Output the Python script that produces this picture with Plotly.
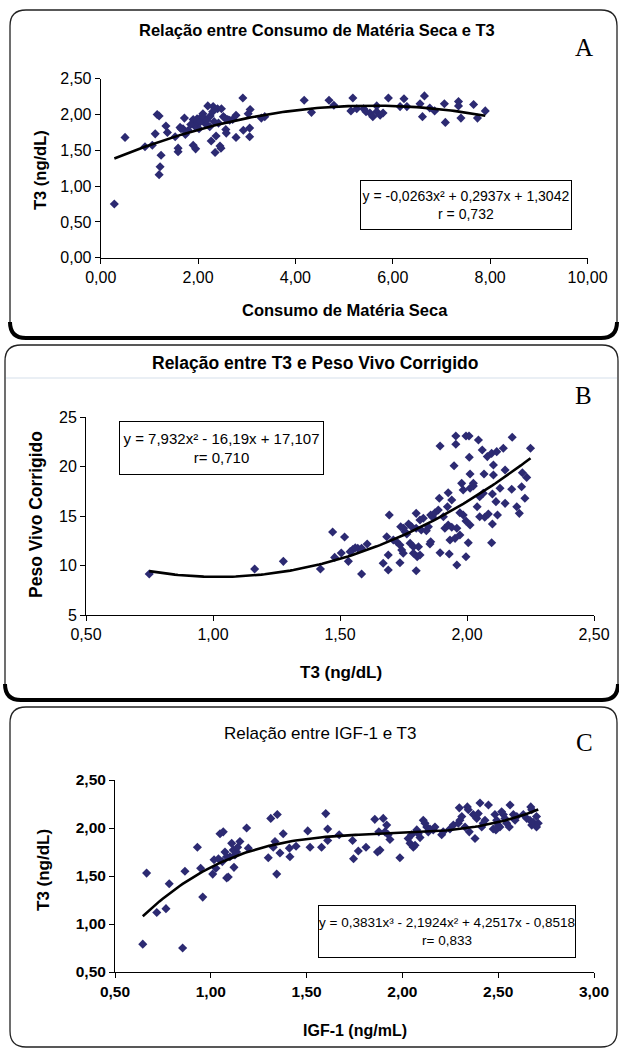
import numpy as np
import plotly.graph_objects as go

W, H = 619, 1052

# ---------------- Panel A: Consumo de Matéria Seca vs T3 ----------------
a_x = [0.28, 0.50, 0.91, 1.06, 1.12, 1.16, 1.20, 1.24, 1.22, 1.20, 1.34, 1.37, 1.53, 1.59, 1.59,
       1.63, 1.72, 1.69, 1.74, 1.90, 1.95, 1.90, 1.93, 2.00, 2.07, 2.10, 2.20, 2.15, 2.24, 2.27,
       2.31, 2.35, 2.37, 2.40, 2.45, 2.47, 2.48, 2.52, 2.57, 2.58, 2.61, 2.71, 2.78, 2.78, 2.92,
       2.93, 3.03, 3.07, 3.06, 3.06, 3.30, 3.37, 1.85, 1.98, 2.05, 2.12, 2.18, 2.25, 2.33, 2.42,
       2.55, 2.65, 2.02, 1.80, 1.65, 2.30,
       4.18, 4.33, 4.69, 4.79, 5.18, 5.14, 5.26, 5.40, 5.45, 5.53, 5.59, 5.67, 5.67, 5.74, 5.80,
       5.91, 6.15, 6.23, 6.29, 6.56, 6.65, 6.61, 6.76, 6.86, 7.06, 7.08, 7.35, 7.35, 7.40, 7.66,
       7.74, 7.90]
a_y = [0.75, 1.68, 1.55, 1.57, 1.73, 2.00, 1.98, 1.43, 1.27, 1.16, 1.84, 1.75, 1.69, 1.53, 1.48,
       1.82, 1.95, 1.80, 1.72, 1.57, 1.52, 1.93, 1.84, 1.90, 1.97, 2.01, 2.12, 1.87, 1.83, 1.63,
       2.11, 1.47, 1.70, 2.08, 1.56, 1.53, 2.08, 1.97, 1.79, 1.74, 1.93, 1.93, 1.68, 1.99, 2.23,
       1.78, 2.01, 2.07, 1.81, 1.69, 1.95, 1.97, 1.86, 1.94, 1.90, 1.95, 1.92, 1.98, 1.90, 1.88,
       1.95, 1.92, 1.80, 1.78, 1.80, 2.04,
       2.20, 2.03, 2.20, 2.13, 2.23, 2.05, 2.08, 2.08, 2.04, 2.02, 1.97, 2.12, 2.04, 1.99, 2.02,
       2.23, 2.11, 2.22, 2.11, 2.15, 2.26, 1.97, 2.09, 2.05, 2.15, 1.89, 2.18, 2.12, 1.95, 2.14,
       1.95, 2.05]
a_coef = [-0.0263, 0.2937, 1.3042]
a_xticks = [0, 2, 4, 6, 8, 10]
a_xticktext = ["0,00", "2,00", "4,00", "6,00", "8,00", "10,00"]
a_yticks = [0, 0.5, 1.0, 1.5, 2.0, 2.5]
a_yticktext = ["0,00", "0,50", "1,00", "1,50", "2,00", "2,50"]

# ---------------- Panel B: T3 vs Peso Vivo Corrigido ----------------
b_x = [0.749, 1.164, 1.277, 1.423, 1.471, 1.479, 1.518, 1.505, 1.533, 1.550, 1.570, 1.585, 1.585,
       1.607, 1.670, 1.684, 1.690, 1.690, 1.694, 1.710, 1.723, 1.736, 1.736, 1.739, 1.743, 1.749,
       1.750, 1.756, 1.763, 1.770, 1.776, 1.782, 1.789, 1.789, 1.800, 1.800, 1.800, 1.804, 1.809,
       1.815, 1.815, 1.820, 1.828, 1.840, 1.848, 1.854, 1.857, 1.857, 1.865, 1.874, 1.887, 1.891,
       1.894, 1.894, 1.907, 1.913, 1.923, 1.926, 1.926, 1.930, 1.933, 1.940, 1.940, 1.949, 1.953,
       1.956, 1.956, 1.960, 1.960, 1.972, 1.972, 1.979, 1.985, 1.985, 1.996, 1.996, 1.996, 2.005,
       2.008, 2.009, 2.012, 2.012, 2.012, 2.025, 2.025, 2.040, 2.045, 2.050, 2.050, 2.060, 2.064,
       2.067, 2.070, 2.080, 2.084, 2.097, 2.097, 2.100, 2.100, 2.104, 2.104, 2.114, 2.117, 2.120,
       2.130, 2.143, 2.150, 2.150, 2.176, 2.178, 2.196, 2.206, 2.215, 2.218, 2.228, 2.235, 2.250,
       1.540, 1.560]
b_y = [9.14, 9.65, 10.42, 9.65, 13.38, 10.82, 12.88, 11.27, 10.42, 11.60, 11.75, 11.74, 9.14,
       12.17, 10.22, 12.91, 11.06, 9.55, 15.10, 12.58, 12.40, 12.07, 10.28, 13.92, 11.57, 11.23,
       13.76, 13.42, 13.18, 14.19, 12.24, 13.92, 11.90, 11.23, 15.27, 13.76, 9.47, 10.89, 11.90,
       14.60, 11.06, 13.59, 14.77, 13.52, 13.92, 12.17, 12.40, 15.10, 14.87, 15.33, 15.60, 16.79,
       22.07, 11.29, 14.93, 13.76, 15.94, 14.09, 17.35, 11.16, 12.58, 13.86, 16.62, 20.08, 12.74,
       23.08, 22.24, 13.76, 10.05, 15.33, 13.08, 18.30, 17.63, 15.10, 23.08, 14.50, 10.89, 12.30,
       23.08, 20.93, 19.24, 17.80, 14.09, 18.03, 18.30, 15.94, 22.68, 14.93, 16.95, 21.67, 17.30,
       19.24, 14.87, 21.00, 15.20, 21.33, 12.30, 14.19, 17.22, 20.15, 19.14, 16.45, 21.50, 15.10,
       17.80, 21.84, 19.65, 16.28, 17.70, 22.95, 15.94, 15.27, 17.96, 19.37, 16.79, 18.90, 21.84,
       11.40, 11.80]
b_coef = [7.932, -16.19, 17.107]
b_xticks = [0.5, 1.0, 1.5, 2.0, 2.5]
b_xticktext = ["0,50", "1,00", "1,50", "2,00", "2,50"]
b_yticks = [5, 10, 15, 20, 25]
b_yticktext = ["5", "10", "15", "20", "25"]

# ---------------- Panel C: IGF-1 vs T3 ----------------
c_x = [0.645, 0.665, 0.718, 0.766, 0.783, 0.853, 0.865, 0.930, 0.947, 0.958, 1.010, 1.017, 1.027,
       1.040, 1.048, 1.065, 1.074, 1.083, 1.083, 1.091, 1.109, 1.117, 1.126, 1.135, 1.121, 1.152,
       1.187, 1.196, 1.300, 1.313, 1.347, 1.335, 1.326, 1.344, 1.361, 1.378, 1.413, 1.410, 1.445,
       1.506, 1.518, 1.578, 1.600, 1.610, 1.610, 1.670, 1.740, 1.745, 1.770, 1.810, 1.856, 1.870,
       1.877, 1.883, 1.900, 1.918, 1.909, 1.926, 1.935, 1.987, 2.030, 2.040, 2.057, 2.066, 2.048,
       2.075, 2.083, 2.092, 2.109, 2.118, 2.127, 2.135, 2.144, 2.161, 2.170, 2.205, 2.213, 2.248,
       2.266, 2.292, 2.300, 2.297, 2.310, 2.327, 2.339, 2.344, 2.349, 2.379, 2.370, 2.388, 2.396,
       2.405, 2.422, 2.414, 2.431, 2.449, 2.483, 2.492, 2.500, 2.509, 2.474, 2.488, 2.518, 2.527,
       2.535, 2.544, 2.558, 2.562, 2.579, 2.588, 2.597, 2.631, 2.649, 2.670, 2.675, 2.666, 2.675,
       2.683, 2.700, 2.709, 2.700, 1.060, 1.100, 1.140]
c_y = [0.79, 1.53, 1.12, 1.16, 1.42, 0.75, 1.55, 1.80, 1.58, 1.28, 1.52, 1.67, 1.58, 1.68, 1.94,
       1.96, 1.75, 1.70, 1.48, 1.49, 1.84, 1.77, 1.72, 1.75, 1.59, 1.86, 2.00, 1.79, 1.69, 2.10,
       2.14, 1.86, 1.80, 1.52, 1.74, 1.94, 1.70, 1.79, 1.81, 1.97, 1.80, 1.80, 2.15, 1.99, 1.87,
       1.93, 1.87, 1.68, 1.76, 1.80, 2.09, 1.75, 1.96, 1.77, 2.10, 2.03, 1.96, 1.93, 1.88, 1.69,
       1.89, 1.84, 1.80, 1.82, 1.93, 1.98, 1.94, 1.90, 2.08, 2.05, 2.01, 1.96, 1.99, 1.98, 2.01,
       1.93, 1.96, 1.99, 2.03, 2.05, 2.08, 2.21, 2.12, 2.01, 2.22, 2.19, 1.96, 1.89, 2.14, 2.10,
       2.15, 2.26, 2.05, 2.01, 2.08, 2.24, 2.14, 2.08, 2.03, 2.01, 1.99, 1.98, 2.17, 2.14, 2.10,
       2.05, 2.01, 2.24, 2.14, 2.08, 2.12, 2.14, 2.10, 2.22, 2.19, 2.08, 2.03, 2.06, 2.12, 2.05,
       2.01, 1.65, 1.70, 1.80]
c_coef = [0.3831, -2.1924, 4.2517, -0.8518]
c_xticks = [0.5, 1.0, 1.5, 2.0, 2.5, 3.0]
c_xticktext = ["0,50", "1,00", "1,50", "2,00", "2,50", "3,00"]
c_yticks = [0.5, 1.0, 1.5, 2.0, 2.5]
c_yticktext = ["0,50", "1,00", "1,50", "2,00", "2,50"]

MARKER = "#2C2A72"
SANS = "Liberation Sans, Arial, sans-serif"
SERIF = "Liberation Serif, Times New Roman, serif"


def fx(px):
    return px / W


def fy(py):
    return 1 - py / H


def trend(xs, coef):
    xx = np.linspace(min(xs), max(xs), 120)
    return xx, np.polyval(coef, xx)


fig = go.Figure()
panels = [
    (a_x, a_y, a_coef, "x", "y"),
    (b_x, b_y, b_coef, "x2", "y2"),
    (c_x, c_y, c_coef, "x3", "y3"),
]
for xs, ys, coef, xa, ya in panels:
    fig.add_trace(go.Scatter(x=xs, y=ys, mode="markers", xaxis=xa, yaxis=ya,
                             marker=dict(symbol="diamond", size=7, color=MARKER, line=dict(width=0)),
                             showlegend=False, hoverinfo="x+y"))
    tx, ty = trend(xs, coef)
    fig.add_trace(go.Scatter(x=tx, y=ty, mode="lines", xaxis=xa, yaxis=ya,
                             line=dict(color="black", width=2.6), showlegend=False,
                             hoverinfo="skip"))


def axis_common(tickfont):
    return dict(showgrid=False, zeroline=False, showline=True, linecolor="black", linewidth=1,
                ticks="outside", ticklen=5, tickcolor="black", tickwidth=1, automargin=False,
                tickfont=tickfont, fixedrange=True)


fa = dict(family=SANS, size=16, color="black")
fc = dict(family=SANS, size=15.5, color="black", weight="bold")

fig.update_layout(
    width=W, height=H, margin=dict(l=0, r=0, t=0, b=0, autoexpand=False),
    paper_bgcolor="white", plot_bgcolor="rgba(0,0,0,0)", showlegend=False,
    xaxis=dict(domain=[fx(100.7), fx(587.5)], anchor="y", range=[0, 10],
               tickmode="array", tickvals=a_xticks, ticktext=a_xticktext, **axis_common(fa)),
    yaxis=dict(domain=[fy(257.7), fy(78.7)], anchor="x", range=[0, 2.5],
               tickmode="array", tickvals=a_yticks, ticktext=a_yticktext, **axis_common(fa)),
    xaxis2=dict(domain=[fx(86), fx(594)], anchor="y2", range=[0.5, 2.5],
                tickmode="array", tickvals=b_xticks, ticktext=b_xticktext, **axis_common(fa)),
    yaxis2=dict(domain=[fy(615), fy(417)], anchor="x2", range=[5, 25],
                tickmode="array", tickvals=b_yticks, ticktext=b_yticktext, **axis_common(fa)),
    xaxis3=dict(domain=[fx(115), fx(594)], anchor="y3", range=[0.5, 3.0],
                tickmode="array", tickvals=c_xticks, ticktext=c_xticktext, **axis_common(fc)),
    yaxis3=dict(domain=[fy(972), fy(780)], anchor="x3", range=[0.5, 2.5],
                tickmode="array", tickvals=c_yticks, ticktext=c_yticktext, **axis_common(fc)),
)

annotations = []


def txt(x, y, text, font, angle=0, **kw):
    annotations.append(dict(x=fx(x), y=fy(y), xref="paper", yref="paper", text=text,
                            showarrow=False, font=font, textangle=angle,
                            xanchor="center", yanchor="middle", **kw))


def bold(size):
    return dict(family=SANS, size=size, color="black", weight="bold")


# Panel A texts
txt(317, 30, "Relação entre Consumo de Matéria Seca e T3", bold(16.5))
txt(584, 48, "A", dict(family=SERIF, size=25, color="black"))
txt(345, 310, "Consumo de Matéria Seca", bold(16.5))
txt(40, 170, "T3 (ng/dL)", bold(16.5), angle=-90)
# Panel B texts
txt(315, 363, "Relação entre T3 e Peso Vivo Corrigido", bold(17.5))
txt(583, 395, "B", dict(family=SERIF, size=25, color="black"))
txt(341, 672, "T3 (ng/dL)", bold(17))
txt(36, 515, "Peso Vivo Corrigido", bold(17.5), angle=-90)
# Panel C texts
txt(320, 733, "Relação entre IGF-1 e T3", dict(family=SANS, size=17, color="black"))
txt(584, 742, "C", dict(family=SERIF, size=25, color="black"))
txt(355, 1030, "IGF-1 (ng/mL)", bold(16))
txt(43, 870, "T3 (ng/dL)", bold(17), angle=-90)


def eqbox(x0, y0, x1, y1, text, size):
    annotations.append(dict(x=fx((x0 + x1) / 2), y=fy((y0 + y1) / 2), xref="paper", yref="paper",
                            text=text, showarrow=False, align="center",
                            font=dict(family=SANS, size=size, color="black"),
                            width=x1 - x0 - 2, height=y1 - y0 - 2, borderpad=0,
                            bordercolor="black", borderwidth=1, bgcolor="white",
                            xanchor="center", yanchor="middle"))


eqbox(360, 180, 572, 230, "y = -0,0263x² + 0,2937x + 1,3042<br>r = 0,732", 14)
eqbox(119, 421, 324, 475, "y = 7,932x² - 16,19x + 17,107<br>r= 0,710", 15)
eqbox(318, 905, 576, 958, "y = 0,3831x³ - 2,1924x² + 4,2517x - 0,8518<br>r= 0,833", 13.5)

fig.update_layout(annotations=annotations)


def P(x, y):
    return f"{x / W:.5f},{1 - y / H:.5f}"


def rrect(x0, y0, x1, y1, r):
    return (f"M {P(x0 + r, y0)} L {P(x1 - r, y0)} Q {P(x1, y0)} {P(x1, y0 + r)} "
            f"L {P(x1, y1 - r)} Q {P(x1, y1)} {P(x1 - r, y1)} L {P(x0 + r, y1)} "
            f"Q {P(x0, y1)} {P(x0, y1 - r)} L {P(x0, y0 + r)} Q {P(x0, y0)} {P(x0 + r, y0)} Z")


def bottom(x0, y1, x1, r):
    return (f"M {P(x0, y1 - r)} Q {P(x0, y1)} {P(x0 + r, y1)} L {P(x1 - r, y1)} "
            f"Q {P(x1, y1)} {P(x1, y1 - r)}")


shapes = []
for (x0, y0, x1, y1) in [(10, 10, 617, 338), (5, 345, 618, 700), (10, 707, 617, 1047)]:
    shapes.append(dict(type="path", path=rrect(x0, y0, x1, y1, 16), xref="paper", yref="paper",
                       line=dict(color="#222222", width=1.3), layer="below"))
shapes.append(dict(type="path", path=bottom(10, 338, 617, 16), xref="paper", yref="paper",
                   line=dict(color="black", width=4)))
shapes.append(dict(type="path", path=bottom(5, 700, 618, 16), xref="paper", yref="paper",
                   line=dict(color="black", width=4)))
shapes.append(dict(type="line", x0=fx(6), x1=fx(617), y0=fy(378), y1=fy(378), xref="paper",
                   yref="paper", line=dict(color="#d5dfea", width=1), layer="below"))
fig.update_layout(shapes=shapes)

fig.write_html("out.html", config={"displayModeBar": False},
               post_script="document.body.style.margin='0px';")
